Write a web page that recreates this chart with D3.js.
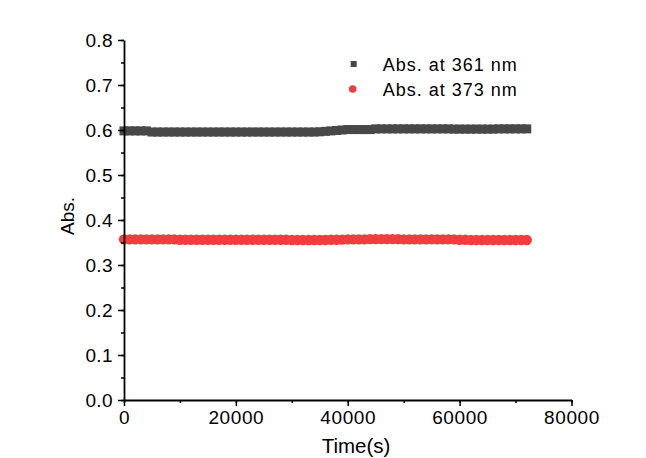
<!DOCTYPE html>
<html>
<head>
<meta charset="utf-8">
<script src="https://cdn.jsdelivr.net/npm/d3@7"></script>
<style>
  html, body { margin: 0; padding: 0; background: #fff; }
  svg { display: block; }
  text { font-family: "Liberation Sans", Arial, sans-serif; fill: #000; }
</style>
</head>
<body>
<svg id="chart" width="646" height="458"></svg>
<script>
// Sampling times (s), one reading every 1000 s
const times = d3.range(0, 72001, 1000);

// Absorbance at 361 nm
const abs361 = [
  0.598, 0.598, 0.598, 0.598, 0.598, 0.5955, 0.5955, 0.5955, 0.5955, 0.5955,
  0.5955, 0.5955, 0.5955, 0.5955, 0.5955, 0.5955, 0.5955, 0.5955, 0.5955, 0.5955,
  0.5955, 0.5955, 0.5955, 0.5955, 0.5955, 0.5955, 0.5955, 0.5955, 0.5955, 0.5955,
  0.5955, 0.5955, 0.5955, 0.5955, 0.5955, 0.596, 0.597, 0.598, 0.599, 0.600,
  0.601, 0.601, 0.601, 0.601, 0.601, 0.6025, 0.6025, 0.6025, 0.6025, 0.6025,
  0.6025, 0.6025, 0.6025, 0.6025, 0.6025, 0.6025, 0.6025, 0.6025, 0.6025, 0.602,
  0.602, 0.602, 0.602, 0.602, 0.602, 0.602, 0.602, 0.6025, 0.6025, 0.6025,
  0.6025, 0.6025, 0.6025
];

// Absorbance at 373 nm
const abs373 = [
  0.357, 0.357, 0.357, 0.357, 0.357, 0.357, 0.357, 0.357, 0.357, 0.357,
  0.356, 0.356, 0.356, 0.356, 0.356, 0.356, 0.356, 0.356, 0.356, 0.356,
  0.356, 0.356, 0.356, 0.356, 0.356, 0.356, 0.356, 0.356, 0.356, 0.356,
  0.3555, 0.3555, 0.3555, 0.3555, 0.3555, 0.3555, 0.3555, 0.356, 0.356, 0.3565,
  0.357, 0.357, 0.357, 0.357, 0.3575, 0.3575, 0.3575, 0.3575, 0.3575, 0.3575,
  0.357, 0.357, 0.357, 0.357, 0.357, 0.357, 0.357, 0.357, 0.357, 0.357,
  0.356, 0.356, 0.3555, 0.3555, 0.3555, 0.3555, 0.3555, 0.3555, 0.3555, 0.3555,
  0.3555, 0.3555, 0.3555
];

const xTicks = [0, 20000, 40000, 60000, 80000];
const yTicks = [0.0, 0.1, 0.2, 0.3, 0.4, 0.5, 0.6, 0.7, 0.8];
const seriesNames = ["Abs. at 361 nm", "Abs. at 373 nm"];

const colGray = "#484848";
const colRed = "#f23c3e";

const svg = d3.select("#chart");
const plotLeft = 124, plotRight = 571.5, plotTop = 40, plotBottom = 400;

const x = d3.scaleLinear().domain([0, 80000]).range([plotLeft, plotRight]);
const y = d3.scaleLinear().domain([0, 0.8]).range([plotBottom, plotTop]);

// Data markers: dense squares and circles forming continuous bands
svg.append("g").selectAll("rect")
  .data(times.map((t, i) => [t, abs361[i]]))
  .join("rect")
  .attr("x", d => x(d[0]) - 4.5)
  .attr("y", d => y(d[1]) - 4.5)
  .attr("width", 9)
  .attr("height", 9)
  .attr("fill", colGray);

svg.append("g").selectAll("circle")
  .data(times.map((t, i) => [t, abs373[i]]))
  .join("circle")
  .attr("cx", d => x(d[0]))
  .attr("cy", d => y(d[1]))
  .attr("r", 5.2)
  .attr("fill", colRed);

// X axis: minor ticks every 10000, labelled major ticks every 20000
const xMinor = svg.append("g").attr("transform", `translate(0,${plotBottom})`)
  .call(d3.axisBottom(x).tickValues(d3.range(0, 80001, 10000)).tickSize(3).tickSizeOuter(0).tickFormat(""));
xMinor.select(".domain").attr("stroke-width", 1.8);
xMinor.selectAll(".tick line").attr("stroke-width", 1.5);

const xMajor = svg.append("g").attr("transform", `translate(0,${plotBottom})`)
  .call(d3.axisBottom(x).tickValues(xTicks).tickSize(6).tickPadding(5).tickFormat(d3.format("d")));
xMajor.select(".domain").remove();
xMajor.selectAll(".tick line").attr("stroke-width", 1.5);
xMajor.selectAll("text").attr("font-size", 19).attr("letter-spacing", 0.6);

// Y axis: minor ticks every 0.05, labelled major ticks every 0.1
const yMinor = svg.append("g").attr("transform", `translate(${plotLeft},0)`)
  .call(d3.axisLeft(y).tickValues(d3.range(0, 0.8001, 0.05)).tickSize(3).tickSizeOuter(0).tickFormat(""));
yMinor.select(".domain").attr("stroke-width", 1.8);
yMinor.selectAll(".tick line").attr("stroke-width", 1.5);

const yMajor = svg.append("g").attr("transform", `translate(${plotLeft},0)`)
  .call(d3.axisLeft(y).tickValues(yTicks).tickSize(6).tickPadding(5).tickFormat(d3.format(".1f")));
yMajor.select(".domain").remove();
yMajor.selectAll(".tick line").attr("stroke-width", 1.5);
yMajor.selectAll("text").attr("font-size", 19).attr("letter-spacing", 0.4);

// Axis titles
svg.append("text")
  .attr("x", 356).attr("y", 453)
  .attr("text-anchor", "middle")
  .attr("font-size", 20.5)
  .text("Time(s)");

svg.append("text")
  .attr("transform", "translate(73.5,216) rotate(-90)")
  .attr("text-anchor", "middle")
  .attr("font-size", 19)
  .attr("textLength", 38).attr("lengthAdjust", "spacing")
  .text("Abs.");

// Legend
const legend = svg.append("g");
legend.append("rect")
  .attr("x", 350.7).attr("y", 61).attr("width", 6).attr("height", 6)
  .attr("fill", colGray);
legend.append("circle")
  .attr("cx", 352.7).attr("cy", 89).attr("r", 3.8)
  .attr("fill", colRed);
legend.selectAll("text.leg")
  .data(seriesNames)
  .join("text")
  .attr("class", "leg")
  .attr("x", 382.7)
  .attr("y", (d, i) => 70.7 + i * 25.3)
  .attr("font-size", 18)
  .attr("textLength", 134).attr("lengthAdjust", "spacing")
  .text(d => d);
</script>
</body>
</html>
